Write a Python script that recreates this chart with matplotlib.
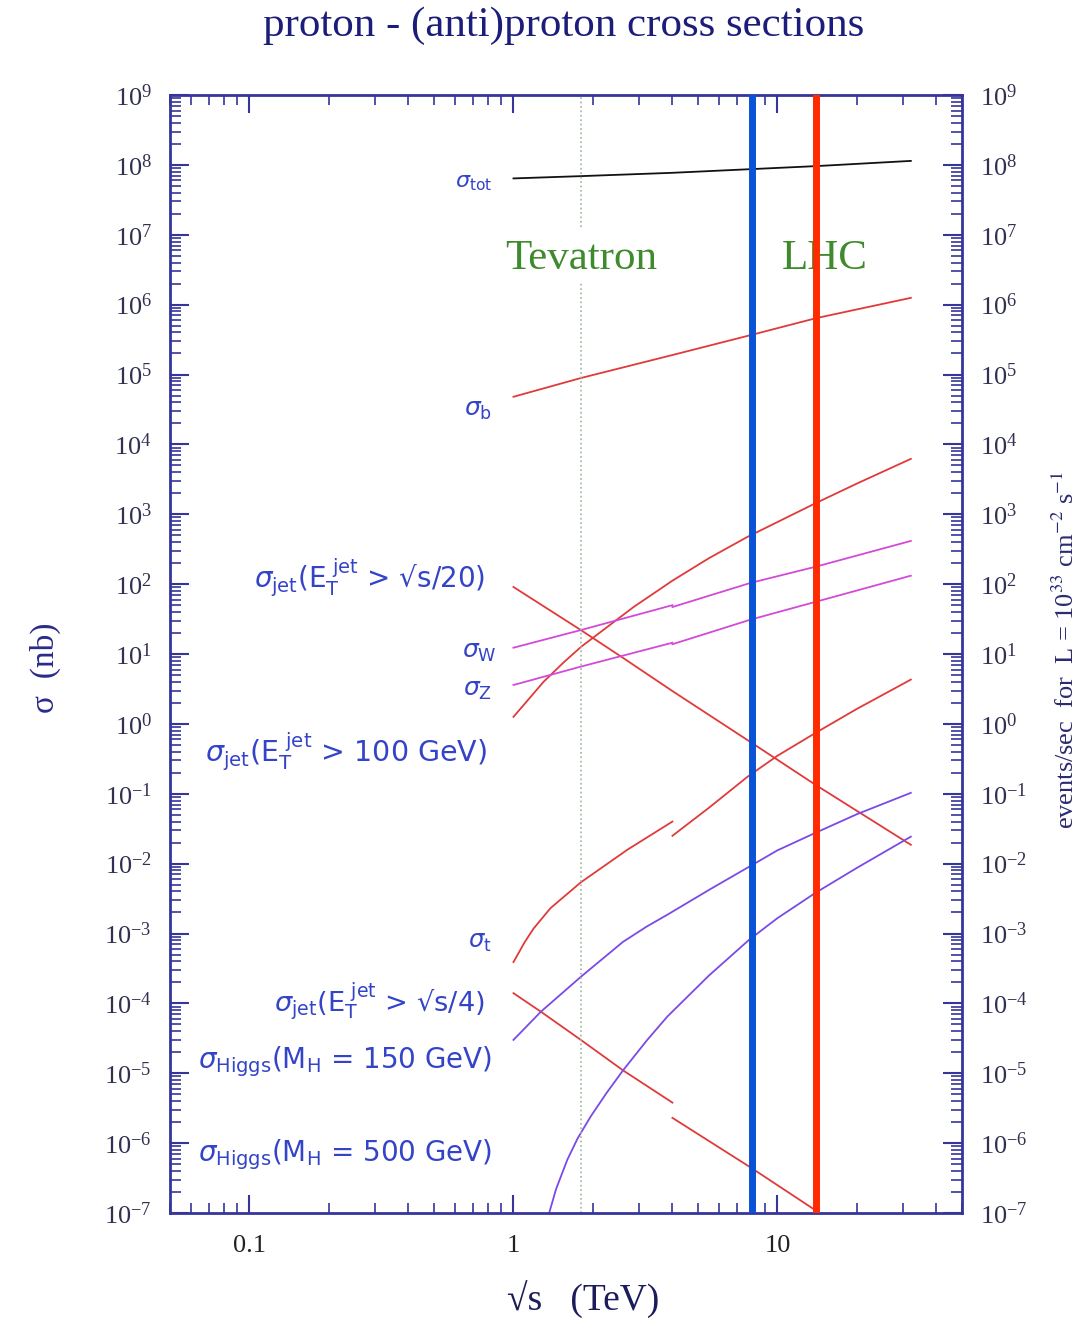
import numpy as np
import matplotlib.pyplot as plt
from matplotlib.ticker import LogLocator, NullFormatter, FixedLocator, FixedFormatter

plt.rcParams['font.family'] = ['Liberation Serif', 'DejaVu Serif']
plt.rcParams['mathtext.fontset'] = 'stix'

# sqrt(s) in TeV, cross sections in nb
tot_x = [1.0, 1.8, 4.0, 8.0, 14.0, 32.0]
sig_tot = [6.4e7, 6.9e7, 7.7e7, 8.7e7, 9.6e7, 1.14e8]

b_x = [1.0, 1.8, 4.0, 8.0, 14.0, 32.0]
sig_b = [4.8e4, 8.9e4, 1.9e5, 3.7e5, 6.4e5, 1.25e6]

jet20_x = [1.0, 1.8, 2.6, 4.0, 7.9, 13.9, 32.0]
sig_jet20 = [91, 22, 8.8, 2.95, 0.55, 0.135, 0.0186]

jet100_x = [1.0, 1.3, 1.55, 1.8, 2.85, 4.0, 5.5, 7.7, 14.0, 20.0, 32.0]
sig_jet100 = [1.26, 4.0, 7.6, 12.6, 47, 112, 235, 475, 1450, 2750, 6200]

# W and Z: ppbar below 4 TeV, pp above
w_ppbar_x = [1.0, 1.8, 4.0]
sig_w_ppbar = [12.3, 22, 50]
w_pp_x = [4.0, 7.9, 14.0, 32.0]
sig_w_pp = [47, 104, 178, 415]

z_ppbar_x = [1.0, 1.8, 4.0]
sig_z_ppbar = [3.6, 6.6, 14.5]
z_pp_x = [4.0, 7.9, 14.0, 32.0]
sig_z_pp = [13.8, 31, 56, 132]

t_ppbar_x = [1.0, 1.1, 1.19, 1.38, 1.8, 2.7, 4.0]
sig_t_ppbar = [3.9e-4, 7.4e-4, 1.17e-3, 2.3e-3, 5.4e-3, 1.58e-2, 4.0e-2]
t_pp_x = [4.0, 5.5, 7.7, 10.0, 14.0, 20.0, 32.0]
sig_t_pp = [2.5e-2, 6.3e-2, 0.175, 0.35, 0.75, 1.64, 4.3]

jet4_ppbar_x = [1.0, 1.27, 1.8, 2.6, 4.0]
sig_jet4_ppbar = [1.4e-4, 7.6e-5, 3.0e-5, 1.1e-5, 3.8e-6]
jet4_pp_x = [4.0, 7.9, 13.9, 16.0]
sig_jet4_pp = [2.3e-6, 4.5e-7, 1.1e-7, 7.8e-8]

h150_x = [1.0, 1.27, 1.8, 2.6, 3.2, 3.83, 5.5, 7.8, 10.0, 13.9, 20.0, 32.0]
sig_h150 = [3.0e-5, 7.6e-5, 2.4e-4, 7.6e-4, 1.26e-3, 1.86e-3, 4.2e-3, 9.0e-3,
            1.55e-2, 2.75e-2, 5.1e-2, 0.103]

h500_x = [1.33, 1.45, 1.6, 1.75, 1.96, 2.25, 2.61, 3.2, 3.83, 5.5, 7.8, 10.0,
          13.9, 20.0, 32.0]
sig_h500 = [7.1e-8, 2.2e-7, 5.8e-7, 1.17e-6, 2.4e-6, 5.2e-6, 1.12e-5, 2.95e-5,
            6.5e-5, 2.5e-4, 8.1e-4, 1.66e-3, 3.8e-3, 8.7e-3, 2.43e-2]

tevatron_energy = 1.8
lhc_energies = [8.0, 14.0]
lhc_colors = ['#0a52d6', '#ff2a00']

W, H = 1082, 1323
fig = plt.figure(figsize=(W / 100, H / 100), dpi=100)
ax = fig.add_axes([170 / W, 1 - 1213 / H, (962 - 170) / W, (1213 - 95) / H])
ax.set_xscale('log')
ax.set_yscale('log')
ax.set_xlim(0.05, 50)
ax.set_ylim(1e-7, 1e9)

red = '#e03a3a'
mag = '#d24ad8'
pur = '#7a4ae6'
lw = 1.3

ax.plot(tot_x, sig_tot, color='#111111', lw=lw)
ax.plot(b_x, sig_b, color=red, lw=lw)
ax.plot(jet20_x, sig_jet20, color=red, lw=lw)
ax.plot(jet100_x, sig_jet100, color=red, lw=lw)
ax.plot(w_ppbar_x, sig_w_ppbar, color=mag, lw=lw)
ax.plot(w_pp_x, sig_w_pp, color=mag, lw=lw)
ax.plot(z_ppbar_x, sig_z_ppbar, color=mag, lw=lw)
ax.plot(z_pp_x, sig_z_pp, color=mag, lw=lw)
ax.plot(t_ppbar_x, sig_t_ppbar, color=red, lw=lw)
ax.plot(t_pp_x, sig_t_pp, color=red, lw=lw)
ax.plot(jet4_ppbar_x, sig_jet4_ppbar, color=red, lw=lw)
ax.plot(jet4_pp_x, sig_jet4_pp, color=red, lw=lw)
ax.plot(h150_x, sig_h150, color=pur, lw=lw)
ax.plot(h500_x, sig_h500, color=pur, lw=lw)

# Tevatron energy marker, broken around its label
ax.axvline(tevatron_energy, ymin=0, ymax=0.832, color='#9ab89a', lw=1.2, ls=':')
ax.axvline(tevatron_energy, ymin=0.882, ymax=1, color='#9ab89a', lw=1.2, ls=':')

for e, c in zip(lhc_energies, lhc_colors):
    ax.axvline(e, color=c, lw=5, zorder=6)

green = '#3f8a2c'
ax.text(1.8, 4.5e6, 'Tevatron', color=green, fontsize=31, ha='center', va='center', zorder=4)
ax.text(15.1, 4.5e6, 'LHC', color=green, fontsize=31, ha='center', va='center', zorder=4)

# axis styling
navy = '#35359a'
for s in ax.spines.values():
    s.set_color(navy)
    s.set_linewidth(2)
ax.yaxis.set_major_locator(LogLocator(base=10, numticks=20))
ax.yaxis.set_minor_locator(LogLocator(base=10, subs=np.arange(2, 10), numticks=200))
ax.yaxis.set_minor_formatter(NullFormatter())
ax.xaxis.set_major_locator(FixedLocator([0.1, 1, 10]))
ax.xaxis.set_major_formatter(FixedFormatter(['0.1', '1', '10']))
ax.xaxis.set_minor_locator(LogLocator(base=10, subs=np.arange(2, 10), numticks=50))
ax.xaxis.set_minor_formatter(NullFormatter())
ax.tick_params(which='both', direction='in', left=True, right=True, top=True,
               bottom=True, labelright=True, color=navy)
ax.tick_params(axis='y', which='major', length=14, width=1.5, pad=13,
               labelsize=19, labelcolor='#303050')
ax.tick_params(axis='y', which='minor', length=8, width=1.2)
ax.tick_params(axis='x', which='major', length=13, width=1.5, pad=16,
               labelsize=19, labelcolor='#222222')
ax.tick_params(axis='x', which='minor', length=7, width=1.2)

# curve labels
lab = dict(color='#3444c8', ha='right', va='center', family='DejaVu Sans',
           math_fontfamily='dejavusans')


def label(xp, yp, s, size=20):
    fig.text(xp / W, 1 - yp / H, s, fontsize=size, **lab)


label(492, 183, r'$\sigma_{\rm tot}$', 16)
label(492, 410, r'$\sigma_{\rm b}$', 18)
label(485, 578, r'$\sigma_{\rm jet}(\mathrm{E}_\mathrm{T}^{\ \mathrm{jet}}$ > √s/20)', 20)
label(497, 652, r'$\sigma_{\rm W}$', 18)
label(492, 690, r'$\sigma_{\rm Z}$', 18)
label(487, 752, r'$\sigma_{\rm jet}(\mathrm{E}_\mathrm{T}^{\ \mathrm{jet}}$ > 100 GeV)', 20.5)
label(492, 942, r'$\sigma_{\rm t}$', 17.5)
label(485, 1002, r'$\sigma_{\rm jet}(\mathrm{E}_\mathrm{T}^{\ \mathrm{jet}}$ > √s/4)', 19.6)
label(492, 1062, r'$\sigma_{\rm Higgs}(\mathrm{M}_\mathrm{H}$ = 150 GeV)', 20)
label(492, 1155, r'$\sigma_{\rm Higgs}(\mathrm{M}_\mathrm{H}$ = 500 GeV)', 20)

fig.text(564 / W, 1 - 26 / H, 'proton - (anti)proton cross sections', fontsize=31,
         color='#1c1c7a', ha='center', va='center')
fig.text(583 / W, 1 - 1300 / H, '√s   (TeV)', fontsize=27, color='#1c1c5a',
         ha='center', va='center')
fig.text(45 / W, 1 - 668 / H, 'σ  (nb)', fontsize=24, color='#2a2a8a', rotation=90,
         ha='center', va='center')
fig.text(1066 / W, 1 - 650 / H,
         r'events/sec  for  L = 10$^{33}$ cm$^{-2}$ s$^{-1}$', fontsize=19,
         color='#2a2a70', rotation=90, ha='center', va='center')

fig.savefig('out.png', dpi=100)
